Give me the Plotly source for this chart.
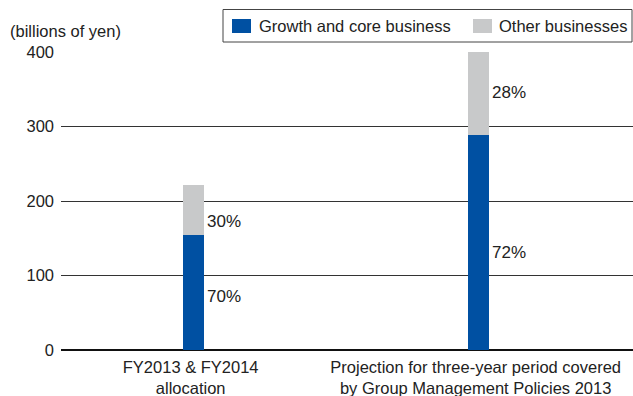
import plotly.graph_objects as go

# Investment allocation (billions of yen)
categories = ["FY2013 & FY2014<br>allocation",
              "Projection for three-year period covered<br>by Group Management Policies 2013"]
series_names = ["Growth and core business", "Other businesses"]
growth_core = [155, 288]
other_business = [67, 112]
growth_pct = ["70%", "72%"]
other_pct = ["30%", "28%"]
y_ticks = [0, 100, 200, 300, 400]

BLUE = "#0050A2"
GRAY = "#C8C9CA"
TEXT = "#222222"
FONT = "Liberation Sans, Arial, Helvetica, sans-serif"

# plot-area geometry in pixels
W, H = 633, 396
L, R, T, B = 61, 0, 52, 46
PW, PH = W - L - R, H - T - B

bar_x = [0, 1]
bar_w = 0.0737


def px_x(px):
    return (px - L) / PW


def px_y(py):
    return (H - B - py) / PH


fig = go.Figure()
fig.add_trace(go.Bar(x=bar_x, y=growth_core, name=series_names[0],
                     marker=dict(color=BLUE, line=dict(width=0)), width=bar_w))
fig.add_trace(go.Bar(x=bar_x, y=other_business, name=series_names[1],
                     marker=dict(color=GRAY, line=dict(width=0)), width=bar_w))

# percentage labels beside each segment (pixel nudges per label)
growth_nudge = [-4, -10]
other_nudge = [-12, 1]
for i in range(len(bar_x)):
    segs = ((0, growth_core[i], growth_pct[i], growth_nudge[i]),
            (growth_core[i], other_business[i], other_pct[i], other_nudge[i]))
    for lo, val, txt, nudge in segs:
        fig.add_annotation(x=bar_x[i] + bar_w / 2, y=lo + val / 2, text=txt,
                           xref="x", yref="y", xanchor="left", yanchor="middle",
                           showarrow=False, xshift=1, yshift=nudge,
                           font=dict(size=17, color=TEXT, family=FONT))

# unit label
fig.add_annotation(x=px_x(8), xref="paper", xanchor="left",
                   y=px_y(31), yref="paper", yanchor="middle",
                   text="(billions of yen)", showarrow=False,
                   font=dict(size=16.5, color=TEXT, family=FONT))

# legend box with swatches
fig.add_shape(type="rect", xref="paper", yref="paper",
              x0=px_x(223), x1=px_x(632), y0=px_y(42), y1=px_y(9.5),
              line=dict(color="#444", width=1), fillcolor="white")
legend_items = [(232, 257, BLUE, series_names[0]),
                (473, 497, GRAY, series_names[1])]
for sx, tx, col, name in legend_items:
    fig.add_shape(type="rect", xref="paper", yref="paper",
                  x0=px_x(sx), x1=px_x(sx + 19), y0=px_y(33), y1=px_y(19),
                  line=dict(width=0), fillcolor=col)
    fig.add_annotation(x=px_x(tx), xref="paper", xanchor="left",
                       y=px_y(26), yref="paper", yanchor="middle",
                       text=name, showarrow=False,
                       font=dict(size=16.5, color=TEXT, family=FONT))

fig.update_layout(
    width=W, height=H,
    margin=dict(l=L, r=R, t=T, b=B),
    barmode="stack",
    plot_bgcolor="white", paper_bgcolor="white",
    font=dict(family=FONT, size=16.5, color=TEXT),
    showlegend=False,
    xaxis=dict(range=[-0.4649, 1.5421], tickvals=[v - 0.01 for v in bar_x],
               ticktext=categories, automargin=False,
               showgrid=False, zeroline=False, showline=False, ticks="",
               ticklabelstandoff=5,
               tickfont=dict(size=16.5, family=FONT, color=TEXT)),
    yaxis=dict(range=[0, 400], tickvals=y_ticks, showgrid=True,
               automargin=False,
               gridcolor="#333", gridwidth=1, zeroline=True,
               zerolinecolor="#111", zerolinewidth=1.5, ticks="",
               ticklabelstandoff=6,
               tickfont=dict(size=16.5, family=FONT, color=TEXT)),
)

fig.write_html("out.html")
